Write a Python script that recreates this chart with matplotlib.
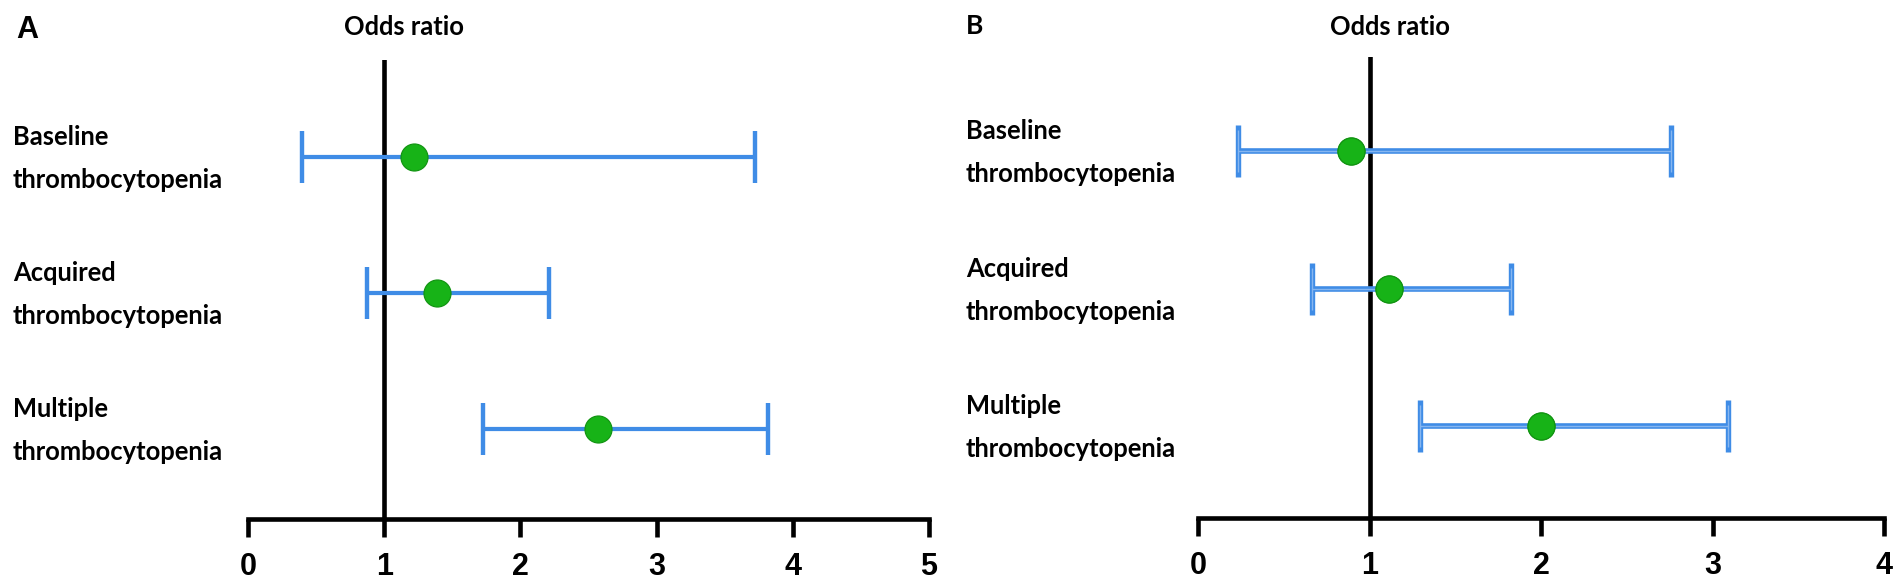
import matplotlib
matplotlib.use("Agg")
import matplotlib.pyplot as plt
import numpy as np

# ---------------- data ----------------
categories = ["Baseline\nthrombocytopenia",
              "Acquired\nthrombocytopenia",
              "Multiple\nthrombocytopenia"]
or_a = [1.22, 1.39, 2.57]
lo_a = [0.40, 0.875, 1.725]
hi_a = [3.72, 2.21, 3.82]
or_b = [0.89, 1.11, 2.00]
lo_b = [0.23, 0.665, 1.29]
hi_b = [2.76, 1.825, 3.09]
ticks_a = [0, 1, 2, 3, 4, 5]
ticks_b = [0, 1, 2, 3, 4]
panel_labels = ["A", "B"]
title_text = "Odds ratio"
ref_value = 1

# ---------------- layout ----------------
W, H, DPI = 1902, 588, 100
PX = 72.0 / DPI  # points per pixel
fig = plt.figure(figsize=(W / DPI, H / DPI), dpi=DPI)
fig.patch.set_facecolor("white")

LABEL_FONT = ["Lato", "DejaVu Sans"]
TICK_FONT = ["Liberation Sans Narrow", "Liberation Sans", "DejaVu Sans"]
BLUE = "#3f8ce6"
GREEN = "#17b317"
GREEN_EDGE = "#129412"
AXIS_LW = 4.6 * PX


def add_panel(left, right, bottom, top, xmax, ymin, ymax):
    ax = fig.add_axes([left / W, 1 - bottom / H, (right - left) / W, (bottom - top) / H])
    ax.set_xlim(0, xmax)
    ax.set_ylim(ymin, ymax)
    for s in ["top", "right", "left"]:
        ax.spines[s].set_visible(False)
    ax.spines["bottom"].set_linewidth(AXIS_LW)
    ax.spines["bottom"].set_capstyle("projecting")
    ax.set_yticks([])
    ax.patch.set_alpha(0)
    return ax


ax_a = add_panel(248, 929, 519, 60, 5, 0.34, 3.71)
ax_b = add_panel(1198.4, 1884, 518, 57, 4, 0.335, 3.685)

rows = np.arange(len(categories), 0, -1)

panels = [
    (ax_a, or_a, lo_a, hi_a, ticks_a, 4.2, 4.4),
    (ax_b, or_b, lo_b, hi_b, ticks_b, 5.6, 5.4),
]

for ax, orv, lo, hi, ticks, elw, cth in panels:
    orv = np.array(orv); lo = np.array(lo); hi = np.array(hi)
    ax.axvline(ref_value, color="black", lw=AXIS_LW, zorder=1)
    ax.errorbar(orv, rows, xerr=[orv - lo, hi - orv], fmt="none",
                ecolor=BLUE, elinewidth=elw * PX, capsize=26 * PX,
                capthick=cth * PX, zorder=2)
    ax.plot(orv, rows, "o", ms=27 * PX, mfc=GREEN, mec=GREEN_EDGE,
            mew=1.2 * PX, zorder=3, ls="none")
    ax.set_xticks(ticks)
    ax.set_xticklabels([str(t) for t in ticks])
    ax.tick_params(axis="x", direction="out", length=18 * PX, width=AXIS_LW,
                   pad=15 * PX, labelsize=22)
    for lbl in ax.get_xticklabels():
        lbl.set_fontfamily(TICK_FONT)
        lbl.set_fontweight("bold")

# light centre stripe on panel B bars (double-line look)
orb = np.array(or_b)
ax_b.errorbar(orb, rows, xerr=[orb - np.array(lo_b), np.array(hi_b) - orb], fmt="none",
              ecolor="#86b6f0", elinewidth=1.4 * PX, capsize=21 * PX,
              capthick=1.4 * PX, zorder=2.5)
ax_b.plot(orb, rows, "o", ms=27 * PX, mfc=GREEN, mec=GREEN_EDGE,
          mew=1.2 * PX, zorder=3, ls="none")

# ---------------- texts ----------------
label_size = 17.5
texts = []
for ax, xpix in [(ax_a, 13), (ax_b, 966)]:
    for r, cat in zip(rows, categories):
        first, second = cat.split("\n")
        t1 = ax.annotate(first, xy=(xpix, r), xycoords=("figure pixels", "data"),
                         xytext=(0, 12), textcoords="offset pixels",
                         ha="left", va="baseline", fontsize=label_size,
                         fontweight="bold", family=LABEL_FONT, annotation_clip=False)
        t2 = ax.annotate(second, xy=(xpix, r), xycoords=("figure pixels", "data"),
                         xytext=(0, -31), textcoords="offset pixels",
                         ha="left", va="baseline", fontsize=label_size,
                         fontweight="bold", family=LABEL_FONT, annotation_clip=False)
        texts += [t1, t2]
    tt = ax.annotate(title_text, xy=(ref_value, 0), xycoords=("data", "figure pixels"),
                     xytext=(20, H - 27), textcoords="offset pixels",
                     ha="center", va="center", fontsize=label_size,
                     fontweight="bold", family=LABEL_FONT, annotation_clip=False)
    texts.append(tt)

# fit label font size so "thrombocytopenia" spans ~210 px
fig.canvas.draw()
renderer = fig.canvas.get_renderer()
w = texts[1].get_window_extent(renderer).width
scale = 210.0 / w
for t in texts:
    t.set_fontsize(label_size * scale)

fig.text(27 / W, 1 - 30 / H, panel_labels[0], ha="center", va="center",
         fontsize=22, fontweight="bold", family=["Liberation Sans", "DejaVu Sans"])
fig.text(966 / W, 1 - 26 / H, panel_labels[1], ha="left", va="center",
         fontsize=19, fontweight="bold", family=LABEL_FONT)

fig.savefig("out.png", dpi=DPI, facecolor="white")
